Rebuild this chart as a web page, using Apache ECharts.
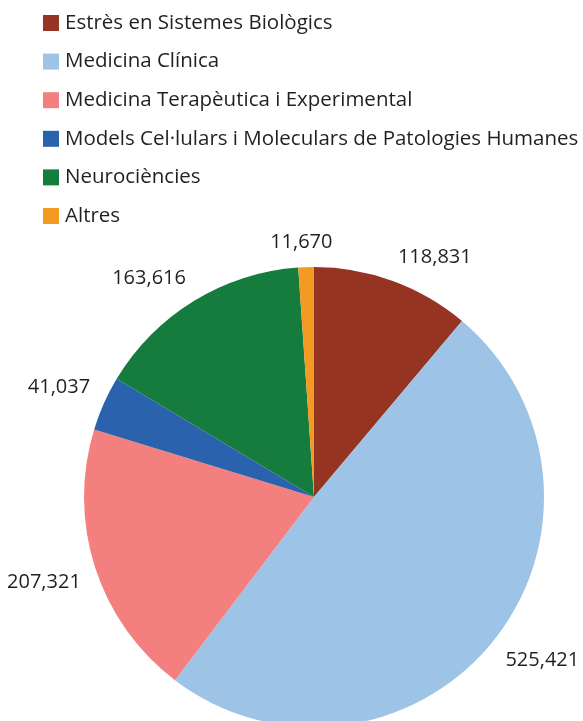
<!DOCTYPE html>
<html>
<head>
<meta charset="utf-8">
<script src="https://cdn.jsdelivr.net/npm/echarts@6/dist/echarts.min.js"></script>
<style>
  html, body { margin: 0; padding: 0; background: #fff; }
  #chart { width: 583px; height: 721px; }
</style>
</head>
<body>
<div id="chart"></div>
<script>
// categories and values (clockwise from 12 o'clock)
const categories = [
  "Estrès en Sistemes Biològics",
  "Medicina Clínica",
  "Medicina Terapèutica i Experimental",
  "Models Cel·lulars i Moleculars de Patologies Humanes",
  "Neurociències",
  "Altres"
];
const values = [118831, 525421, 207321, 41037, 163616, 11670];
const colors = ["#943421", "#9dc3e6", "#f37f7f", "#2a62ae", "#157c3d", "#f39a22"];

const chart = echarts.init(document.getElementById("chart"));

const fontFamily = "'Open Sans', Lato, sans-serif";
const pieCenter = [314, 497];
const pieRadius = 230;
const labelGap = 15;

const clamp01 = (v) => Math.max(0, Math.min(1, v));

// Excel-like "outside end": the label box corner nearest the pie sits on the
// slice's mid-angle ray, a bit outside the rim (direction from the library's label line)
const placeLabel = (p) => {
  const pts = p.labelLinePoints;
  if (!pts) return {};
  const dx = pts[0][0] - pieCenter[0];
  const dy = pts[0][1] - pieCenter[1];
  const len = Math.sqrt(dx * dx + dy * dy) || 1;
  const ux = dx / len, uy = dy / len;
  const w = p.labelRect.width, h = p.labelRect.height;
  const ax = clamp01(0.5 - 2 * ux);
  const ay = clamp01(0.5 - 2 * uy);
  const d = pieRadius + labelGap;
  return {
    x: pieCenter[0] + ux * d + (0.5 - ax) * w,
    y: pieCenter[1] + uy * d + (0.5 - ay) * h,
    align: "center",
    verticalAlign: "middle",
    labelLinePoints: []
  };
};

const option = {
  animation: false,
  color: colors,
  legend: {
    orient: "vertical",
    left: 38,
    top: 7,
    itemWidth: 16,
    itemHeight: 16,
    itemGap: 16.6,
    icon: "rect",
    data: categories,
    textStyle: {
      fontFamily: fontFamily,
      fontSize: 20.5,
      lineHeight: 22,
      color: "#231f20",
      padding: [0, 0, 0, 1]
    }
  },
  series: [
    {
      type: "pie",
      center: pieCenter,
      radius: pieRadius,
      startAngle: 90,
      clockwise: true,
      avoidLabelOverlap: false,
      data: categories.map((name, i) => ({ name: name, value: values[i] })),
      label: {
        show: true,
        position: "outside",
        fontFamily: fontFamily,
        fontSize: 20,
        lineHeight: 16,
        color: "#231f20",
        formatter: (p) => p.value.toLocaleString("en-US")
      },
      labelLine: {
        show: true,
        length: 10,
        length2: 0,
        lineStyle: { opacity: 0 }
      },
      labelLayout: placeLabel,
      emphasis: { disabled: true }
    }
  ]
};

chart.setOption(option);
window.addEventListener("resize", () => chart.resize());
</script>
</body>
</html>
